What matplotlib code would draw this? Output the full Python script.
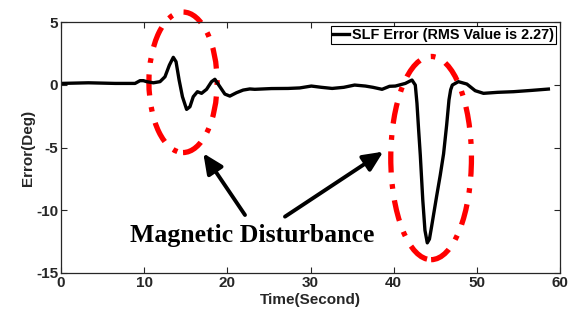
import numpy as np
import matplotlib.pyplot as plt
from matplotlib.patches import Ellipse

plt.rcParams['axes.unicode_minus'] = False

# SLF error curve
t = [0, 3.3, 6.5, 8.9, 9.5, 9.9, 10.3, 11.1, 11.9, 12.5, 13.03, 13.5, 13.83, 14.2,
     14.6, 15.1, 15.5, 15.9, 16.4, 16.9, 17.5, 18.1, 18.5, 19.1, 19.7, 20.3,
     21.1, 21.9, 22.7, 23.3, 25.3, 27.3, 28.7, 30.1, 31.3, 32.6, 34.0, 35.3,
     36.6, 37.5, 38.6, 39.5, 40.2, 41.4, 42.2, 42.6, 42.8, 43.0, 43.2, 43.5,
     43.76, 44.04, 44.3, 44.56, 45.16, 45.6, 46.0, 46.37, 46.65, 46.85, 47.05,
     47.78, 48.8, 49.8, 50.8, 52.5, 54.4, 56.5, 58.6]
err = [0.11, 0.16, 0.11, 0.11, 0.33, 0.33, 0.25, 0.16, 0.25, 0.64, 1.57, 2.19, 1.84,
       0.38, -0.95, -1.96, -1.75, -0.95, -0.55, -0.68, -0.36, 0.25, 0.44, -0.15,
       -0.74, -0.9, -0.63, -0.42, -0.33, -0.36, -0.3, -0.29, -0.25, -0.1, -0.2,
       -0.29, -0.2, -0.02, -0.1, -0.2, -0.36, -0.12, -0.1, 0.11, 0.38, -0.02,
       -1.48, -3.6, -5.6, -9.2, -11.6, -12.6, -12.3, -11.3, -8.9, -7.2, -5.5,
       -3.2, -1.2, -0.4, -0.02, 0.25, 0.06, -0.47, -0.68, -0.6, -0.55, -0.45, -0.34]

xticks = [0, 10, 20, 30, 40, 50, 60]
yticks = [-15, -10, -5, 0, 5]

fig = plt.figure(figsize=(5.79, 3.20), dpi=100)
ax = fig.add_axes([0.1054, 0.147, 0.8618, 0.784])

ax.plot(t, err, color='black', linewidth=2.4, solid_joinstyle='round',
        label='SLF Error (RMS Value is 2.27)')

ax.set_xlim(0, 60)
ax.set_ylim(-15, 5)
ax.set_xticks(xticks)
ax.set_yticks(yticks)
ax.tick_params(direction='in', top=True, right=True, length=4, width=0.8,
               labelsize=11, colors='#262626', pad=2)
for lab in ax.get_xticklabels() + ax.get_yticklabels():
    lab.set_fontweight('bold')
    lab.set_family('Liberation Sans')
for s in ax.spines.values():
    s.set_linewidth(0.9)
    s.set_color('#262626')

ax.set_xlabel('Time(Second)', fontsize=11, fontweight='bold', family='Liberation Sans',
              color='#262626', labelpad=2)
ax.set_ylabel('Error(Deg)', fontsize=11, fontweight='bold', family='Liberation Sans',
              color='#262626', labelpad=1)

leg = ax.legend(loc='upper right', prop={'family': 'Liberation Sans', 'weight': 'bold', 'size': 10.4},
                fancybox=False, edgecolor='black', framealpha=1, handlelength=1.1,
                handletextpad=0.2, borderpad=0.15, borderaxespad=0.25)
leg.get_frame().set_linewidth(0.8)

# red dash-dot ellipses around the disturbances
dash = (0, (4, 2.2, 0.9, 2.2))
e1 = Ellipse((14.67, 0.2), 8.2, 11.2, angle=0, fill=False, edgecolor='red',
             linewidth=3.8, linestyle=dash, clip_on=False)
e2 = Ellipse((44.5, -5.84), 9.7, 16.2, angle=0, fill=False, edgecolor='red',
             linewidth=3.8, linestyle=dash, clip_on=False)
ax.add_patch(e1)
ax.add_patch(e2)

# arrows and annotation text
arrow = dict(arrowstyle='-|>,head_length=1.2,head_width=0.55', color='black', lw=2.8,
             shrinkA=0, shrinkB=0)
ax.annotate('', xy=(17.11, -5.46), xytext=(22.12, -10.38), arrowprops=arrow)
ax.annotate('', xy=(38.75, -5.33), xytext=(26.93, -10.51), arrowprops=arrow)
ax.text(22.97, -12.5, 'Magnetic Disturbance', ha='center', va='baseline',
        fontsize=18.5, fontweight='bold', family='Liberation Serif')

fig.savefig('out.png', dpi=100)
